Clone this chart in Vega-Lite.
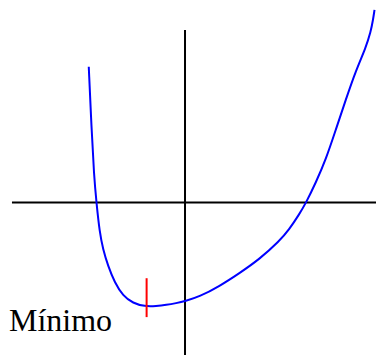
{
  "$schema": "https://vega.github.io/schema/vega-lite/v6.json",
  "width": 377,
  "height": 356,
  "autosize": {"type": "fit", "contains": "padding"},
  "padding": 0,
  "background": "white",
  "config": {"view": {"stroke": null}},
  "datasets": {
    "curve": [
      {"x": -96.5, "y": 136}, {"x": -93.8, "y": 76}, {"x": -91.2, "y": 26}, {"x": -88.8, "y": 0},
      {"x": -85.6, "y": -30}, {"x": -82.2, "y": -47}, {"x": -77.2, "y": -63.7}, {"x": -70.5, "y": -80.3},
      {"x": -62.2, "y": -93.7}, {"x": -52.2, "y": -101}, {"x": -40.5, "y": -104.3}, {"x": -28.8, "y": -103.9},
      {"x": -18.8, "y": -102.8}, {"x": -8.8, "y": -101}, {"x": 0, "y": -99}, {"x": 14.5, "y": -94.5},
      {"x": 34.5, "y": -84}, {"x": 54.5, "y": -71}, {"x": 74.5, "y": -57}, {"x": 94.5, "y": -39},
      {"x": 104.5, "y": -27}, {"x": 114.5, "y": -12}, {"x": 121.5, "y": 0}, {"x": 131.2, "y": 20},
      {"x": 141.2, "y": 43}, {"x": 151.2, "y": 73}, {"x": 161.2, "y": 103}, {"x": 171.2, "y": 132},
      {"x": 181.2, "y": 155}, {"x": 186.2, "y": 171}, {"x": 188.5, "y": 183}, {"x": 190, "y": 193}
    ],
    "axes": [
      {"x1": -173.5, "x2": 191.5, "y1": 0, "y2": 0},
      {"x1": 0, "x2": 0, "y1": 173, "y2": -153}
    ],
    "mark": [
      {"x1": -38.5, "x2": -38.5, "y1": -76, "y2": -115}
    ],
    "label": [
      {"x": -176.5, "y": -129, "text": "Mínimo"}
    ]
  },
  "layer": [
    {
      "data": {"name": "axes"},
      "mark": {"type": "rule", "color": "black", "strokeWidth": 2},
      "encoding": {
        "x": {"field": "x1", "type": "quantitative", "scale": {"domain": [-185.5, 191.5], "nice": false, "zero": false}, "axis": null},
        "x2": {"field": "x2"},
        "y": {"field": "y1", "type": "quantitative", "scale": {"domain": [-153, 203], "nice": false, "zero": false}, "axis": null},
        "y2": {"field": "y2"}
      }
    },
    {
      "data": {"name": "curve"},
      "mark": {"type": "line", "color": "#0000ff", "strokeWidth": 2, "interpolate": "basis", "clip": true},
      "encoding": {
        "x": {"field": "x", "type": "quantitative"},
        "y": {"field": "y", "type": "quantitative"}
      }
    },
    {
      "data": {"name": "mark"},
      "mark": {"type": "rule", "color": "#ff0000", "strokeWidth": 2},
      "encoding": {
        "x": {"field": "x1", "type": "quantitative"},
        "x2": {"field": "x2"},
        "y": {"field": "y1", "type": "quantitative"},
        "y2": {"field": "y2"}
      }
    },
    {
      "data": {"name": "label"},
      "mark": {"type": "text", "font": "Liberation Serif", "fontSize": 32, "align": "left", "baseline": "alphabetic", "color": "black"},
      "encoding": {
        "x": {"field": "x", "type": "quantitative"},
        "y": {"field": "y", "type": "quantitative"},
        "text": {"field": "text"}
      }
    }
  ]
}
